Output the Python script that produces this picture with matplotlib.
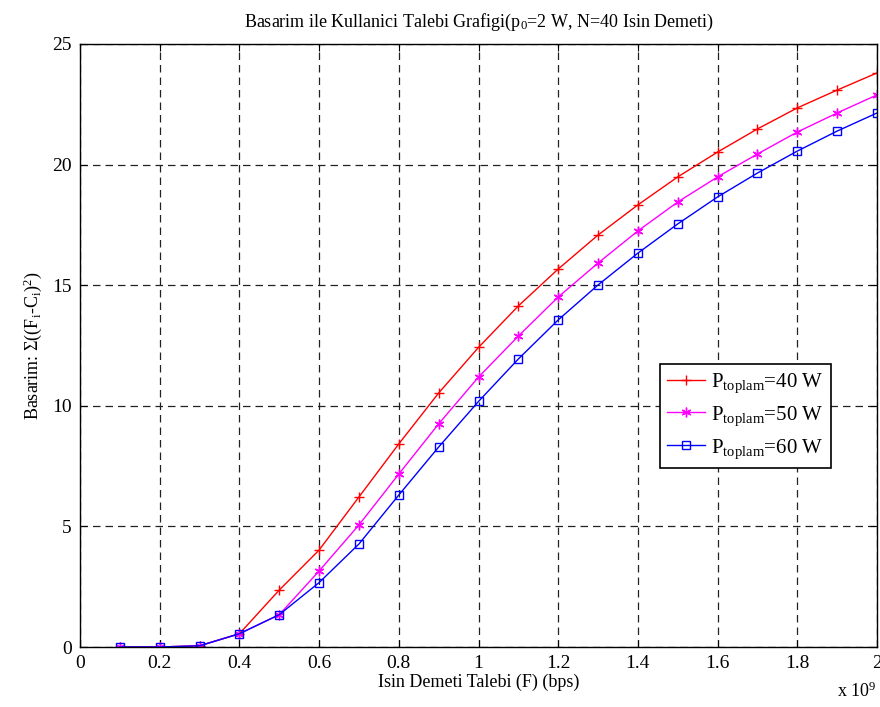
import matplotlib
matplotlib.use("Agg")
import matplotlib.pyplot as plt
from matplotlib.ticker import FuncFormatter, MultipleLocator

plt.rcParams['font.family'] = ['Liberation Serif', 'DejaVu Serif']
plt.rcParams['mathtext.fontset'] = 'custom'
plt.rcParams['mathtext.rm'] = 'Liberation Serif'
plt.rcParams['mathtext.it'] = 'Liberation Serif:italic'
plt.rcParams['mathtext.bf'] = 'Liberation Serif:bold'

demand = [0.1e9, 0.2e9, 0.3e9, 0.4e9, 0.5e9, 0.6e9, 0.7e9, 0.8e9, 0.9e9, 1.0e9,
          1.1e9, 1.2e9, 1.3e9, 1.4e9, 1.5e9, 1.6e9, 1.7e9, 1.8e9, 1.9e9, 2.0e9]
p40 = [0.0, 0.0, 0.05, 0.55, 2.36, 4.02, 6.22, 8.42, 10.53, 12.42,
       14.14, 15.67, 17.08, 18.33, 19.49, 20.52, 21.48, 22.35, 23.09, 23.80]
p50 = [0.0, 0.0, 0.05, 0.55, 1.34, 3.15, 5.06, 7.17, 9.25, 11.19,
       12.89, 14.51, 15.92, 17.25, 18.45, 19.49, 20.44, 21.35, 22.14, 22.89]
p60 = [0.0, 0.0, 0.05, 0.55, 1.34, 2.67, 4.27, 6.30, 8.29, 10.18,
       11.94, 13.56, 15.01, 16.33, 17.54, 18.66, 19.65, 20.56, 21.39, 22.14]
labels = [r'P$_{\mathrm{toplam}}$=40 W', r'P$_{\mathrm{toplam}}$=50 W', r'P$_{\mathrm{toplam}}$=60 W']

fig = plt.figure(figsize=(8.8, 7.07), dpi=100)
ax = fig.add_axes([80/880, 60/707, 797/880, 603/707])

ax.plot(demand, p40, color='#ff0000', marker='+', markersize=7, lw=1, label=labels[0])
ax.plot(demand, p50, color='#ff00ff', marker=(6, 2, 0), markersize=7, lw=1,
        markeredgewidth=1, label=labels[1])
ax.plot(demand, p60, color='#0000ff', marker='s', markersize=6, lw=1,
        markerfacecolor='none', markeredgewidth=1, label=labels[2])

ax.set_xlim(0, 2e9)
ax.set_ylim(0, 25)
ax.xaxis.set_major_locator(MultipleLocator(0.2e9))
ax.yaxis.set_major_locator(MultipleLocator(5))
ax.xaxis.set_major_formatter(FuncFormatter(lambda v, p: ('%g' % round(v / 1e9, 1))))
ax.tick_params(direction='in', top=True, right=True, labelsize=14, length=5, pad=6)
ax.grid(True, color='#222222', linestyle=(0, (6, 4)), linewidth=0.9)
for s in ax.spines.values():
    s.set_linewidth(1)
    s.set_color('black')

ax.text(0.999, -0.058, r'x 10$^9$', transform=ax.transAxes, ha='right', va='top', fontsize=13)
ax.set_xlabel('Isin Demeti Talebi (F) (bps)', fontsize=13, labelpad=1)
ax.set_ylabel(r'Basarim: $\Sigma$((F$_\mathrm{i}$-C$_\mathrm{i}$)$^2$)', fontsize=13, labelpad=6)
ax.set_title(r'Basarim ile Kullanici Talebi Grafigi(p$_0$=2 W, N=40 Isin Demeti)', fontsize=13, pad=12)

leg = ax.legend(loc='upper left', bbox_to_anchor=(0.7277, 0.4693), borderaxespad=0,
                fontsize=15, fancybox=False, framealpha=1, edgecolor='black',
                handlelength=1.8, handletextpad=0.3, labelspacing=0.45,
                borderpad=0.35)
leg.get_frame().set_linewidth(1.2)

fig.savefig('out.png', dpi=100)
